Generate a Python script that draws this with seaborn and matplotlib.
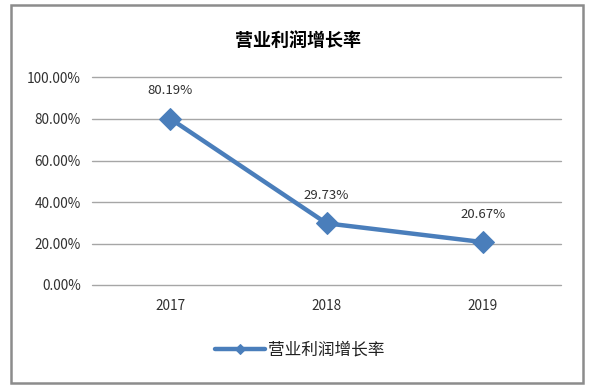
import matplotlib
matplotlib.use("Agg")
import matplotlib.pyplot as plt
from matplotlib.patches import Rectangle
from matplotlib.ticker import FuncFormatter
import seaborn as sns
import pandas as pd

years = ["2017", "2018", "2019"]
growth = [80.19, 29.73, 20.67]
y_ticks = [0, 20, 40, 60, 80, 100]
series_name = "营业利润增长率"

sns.set_style("white")
plt.rcParams['font.family'] = ['Noto Sans CJK SC', 'DejaVu Sans']

df = pd.DataFrame({"year": years, "value": growth, "series": series_name})
df["pos"] = range(len(years))

fig = plt.figure(figsize=(5.96, 3.88), dpi=100)
ax = fig.add_axes([92 / 596, 1 - 285 / 388, (561 - 92) / 596, (285 - 77.5) / 388])

blue = "#4A7EBB"
text_col = "#303030"
sns.lineplot(data=df, x="pos", y="value", hue="series", palette=[blue],
             marker="D", markersize=11, linewidth=3.2, markeredgecolor=blue,
             ax=ax, zorder=3)

for x, v in zip(df["pos"], growth):
    ax.annotate(f"{v:.2f}%", (x, v), xytext=(0, 20), textcoords="offset points",
                ha="center", va="center", fontsize=9.5, color=text_col)

ax.set_xlim(-0.5, len(years) - 0.5)
ax.set_ylim(0, 100)
ax.set_xticks(df["pos"])
ax.set_xticklabels(years)
ax.set_yticks(y_ticks)
ax.yaxis.set_major_formatter(FuncFormatter(lambda v, _: f"{v:.2f}%"))
ax.tick_params(axis="both", labelsize=9.8, colors=text_col, length=0)
ax.tick_params(axis="x", pad=10)
ax.tick_params(axis="y", pad=8)
ax.grid(axis="y", color="#A6A6A6", linewidth=1)
for gl in ax.get_ygridlines():
    gl.set_clip_on(False)
ax.set_axisbelow(True)
for s in ax.spines.values():
    s.set_visible(False)
ax.set_xlabel("")
ax.set_ylabel("")

ax.legend_.remove()
handles, labels = ax.get_legend_handles_labels()
leg = fig.legend(handles, labels, loc="center", bbox_to_anchor=(300 / 596, 1 - 350 / 388),
                 frameon=False, fontsize=12, handlelength=3, handletextpad=0.2,
                 markerscale=0.45)
for t in leg.get_texts():
    t.set_color("#202020")

fig.text(298 / 596, 1 - 40 / 388, series_name, ha="center", va="center",
         fontsize=13, fontweight="bold", color="#000000")

fig.patches.append(Rectangle((10.5 / 596, 1 - 383 / 388), (583 - 10.5) / 596, (383 - 4.5) / 388,
                             transform=fig.transFigure, fill=False,
                             edgecolor="#8C8C8C", linewidth=1.8))

fig.savefig("out.png", dpi=100)
